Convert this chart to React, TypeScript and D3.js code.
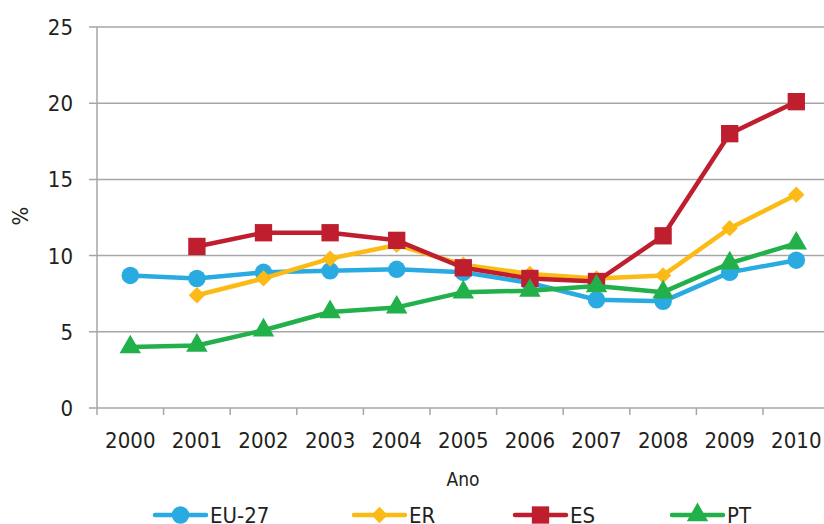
import React, { useEffect, useRef } from "react";
import * as d3 from "d3";

const years = ["2000", "2001", "2002", "2003", "2004", "2005", "2006", "2007", "2008", "2009", "2010"];
const eu27 = [8.7, 8.5, 8.9, 9.0, 9.1, 8.9, 8.2, 7.1, 7.0, 8.9, 9.7];
const er = [null, 7.4, 8.5, 9.8, 10.7, 9.4, 8.8, 8.5, 8.7, 11.8, 14.0];
const es = [null, 10.6, 11.5, 11.5, 11.0, 9.2, 8.5, 8.3, 11.3, 18.0, 20.1];
const pt = [4.0, 4.1, 5.1, 6.3, 6.6, 7.6, 7.7, 8.0, 7.6, 9.5, 10.8];
const yTicks = [0, 5, 10, 15, 20, 25];

const seriesList = [
	{ name: "EU-27", values: eu27, color: "#29ABE2", symbol: d3.symbolCircle, size: 240 },
	{ name: "ER", values: er, color: "#FBBA16", symbol: d3.symbolDiamond2 || d3.symbolDiamond, size: 170 },
	{ name: "ES", values: es, color: "#BE1E2D", symbol: d3.symbolSquare, size: 300 },
	{ name: "PT", values: pt, color: "#22B04B", symbol: d3.symbolTriangle, size: 200 },
];

const FONT = "'Liberation Sans Narrow', 'DejaVu Sans Condensed', Roboto, sans-serif";

const App = () => {
	const svgRef = useRef(null);

	useEffect(() => {
		drawChart();
	}, []);

	const drawChart = () => {
		const svg = d3.select(svgRef.current);
		svg.selectAll("*").remove();

		const left = 97;
		const top = 27;
		const bottom = 408;
		const step = 66.6;

		const x = d3
			.scaleBand()
			.domain(years)
			.range([left, left + step * years.length]);
		const y = d3.scaleLinear().domain([0, 25]).range([bottom, top]);

		// gridlines
		svg
			.append("g")
			.selectAll("line")
			.data(yTicks)
			.enter()
			.append("line")
			.attr("x1", left - 8)
			.attr("x2", 824)
			.attr("y1", (d) => y(d))
			.attr("y2", (d) => y(d))
			.attr("stroke", "#A6A6A6")
			.attr("stroke-width", 1.5);

		// y axis line
		svg
			.append("line")
			.attr("x1", left)
			.attr("x2", left)
			.attr("y1", top)
			.attr("y2", bottom + 7)
			.attr("stroke", "#A6A6A6")
			.attr("stroke-width", 1.5);

		// x ticks at band boundaries
		svg
			.append("g")
			.selectAll("line")
			.data(years.slice(1))
			.enter()
			.append("line")
			.attr("x1", (d) => x(d))
			.attr("x2", (d) => x(d))
			.attr("y1", bottom)
			.attr("y2", bottom + 7)
			.attr("stroke", "#A6A6A6")
			.attr("stroke-width", 1.5);

		// y labels
		svg
			.append("g")
			.selectAll("text")
			.data(yTicks)
			.enter()
			.append("text")
			.attr("x", 73)
			.attr("y", (d) => y(d) + 8)
			.attr("text-anchor", "end")
			.attr("font-size", 22)
			.attr("font-family", FONT)
			.attr("fill", "#231F20")
			.text((d) => d);

		// x labels
		svg
			.append("g")
			.selectAll("text")
			.data(years)
			.enter()
			.append("text")
			.attr("x", (d) => x(d) + x.bandwidth() / 2)
			.attr("y", 448)
			.attr("text-anchor", "middle")
			.attr("font-size", 22)
			.attr("font-family", FONT)
			.attr("fill", "#231F20")
			.text((d) => d);

		svg
			.append("text")
			.attr("x", 463)
			.attr("y", 486)
			.attr("text-anchor", "middle")
			.attr("font-size", 19)
			.attr("font-family", FONT)
			.attr("fill", "#231F20")
			.text("Ano");

		svg
			.append("text")
			.attr("transform", "translate(28,216) rotate(-90)")
			.attr("text-anchor", "middle")
			.attr("font-size", 22)
			.attr("font-family", FONT)
			.attr("fill", "#231F20")
			.text("%");

		const line = d3
			.line()
			.defined((d) => d[1] != null)
			.x((d) => x(d[0]) + x.bandwidth() / 2)
			.y((d) => y(d[1]));

		seriesList.forEach((s) => {
			const pts = years.map((yr, i) => [yr, s.values[i]]);
			const g = svg.append("g");
			g.append("path")
				.attr("d", line(pts))
				.attr("fill", "none")
				.attr("stroke", s.color)
				.attr("stroke-width", 4.5)
				.attr("stroke-linejoin", "round");
			g.selectAll("path.m")
				.data(pts.filter((d) => d[1] != null))
				.enter()
				.append("path")
				.attr("class", "m")
				.attr("transform", (d) => `translate(${x(d[0]) + x.bandwidth() / 2},${y(d[1])})`)
				.attr("d", d3.symbol().type(s.symbol).size(s.size))
				.attr("fill", s.color);
		});

		// legend
		const legendX = [155, 354, 515, 672];
		const legend = svg
			.append("g")
			.selectAll("g")
			.data(seriesList)
			.enter()
			.append("g")
			.attr("transform", (d, i) => `translate(${legendX[i]},515)`);
		legend
			.append("line")
			.attr("x1", 0)
			.attr("x2", 51)
			.attr("stroke", (d) => d.color)
			.attr("stroke-width", 4.5)
			.attr("stroke-linecap", "round");
		legend
			.append("path")
			.attr("transform", "translate(25.5,0)")
			.attr("d", (d) => d3.symbol().type(d.symbol).size(d.size)())
			.attr("fill", (d) => d.color);
		legend
			.append("text")
			.attr("x", 55)
			.attr("y", 8)
			.attr("font-size", 22)
			.attr("font-family", FONT)
			.attr("fill", "#231F20")
			.text((d) => d.name);
	};

	return (
		<svg
			ref={svgRef}
			width={824}
			height={524}
			style={{ position: "absolute", left: 0, top: 0, background: "#fff" }}
		></svg>
	);
};

export default App;
